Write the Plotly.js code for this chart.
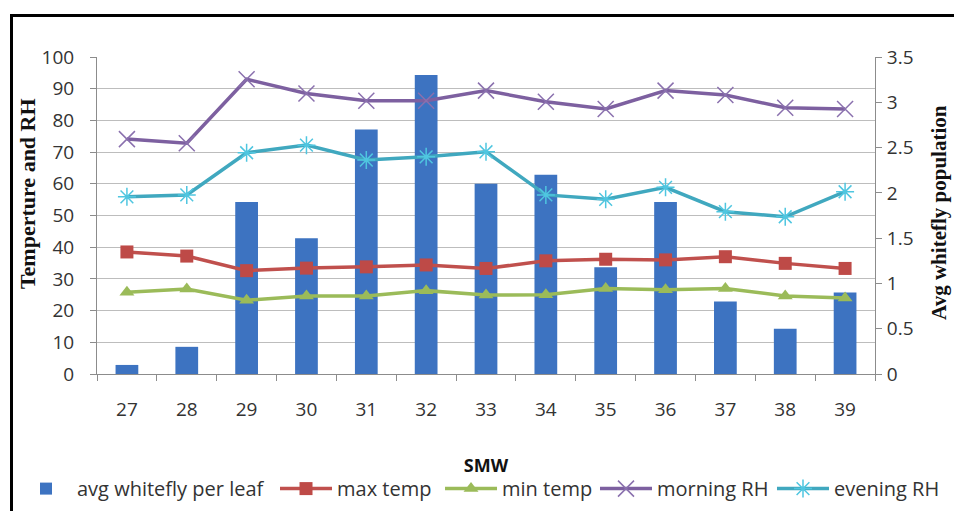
<!DOCTYPE html>
<html>
<head>
<meta charset="utf-8">
<script src="https://cdn.plot.ly/plotly-3.0.1.min.js"></script>
<style>
  html, body { margin: 0; padding: 0; background: #fff; }
  #chart { position: absolute; left: 0; top: 0; width: 954px; height: 511px; }
  #frame { position: absolute; left: 10px; top: 14px; right: -10px; bottom: -10px;
           border-left: 3px solid #000; border-top: 3px solid #000; pointer-events: none; }
</style>
</head>
<body>
<div id="chart"></div>
<div id="frame"></div>
<script>
// Standard meteorological weeks
const weeks = ['27', '28', '29', '30', '31', '32', '33', '34', '35', '36', '37', '38', '39'];

// Average whitefly population per leaf (right axis)
const whitefly = [0.1, 0.3, 1.9, 1.5, 2.7, 3.3, 2.1, 2.2, 1.18, 1.9, 0.8, 0.5, 0.9];

// Weather parameters (left axis)
const maxTemp    = [38.5, 37.2, 32.6, 33.4, 33.8, 34.4, 33.3, 35.7, 36.2, 36.0, 37.0, 34.9, 33.3];
const minTemp    = [25.8, 26.8, 23.3, 24.6, 24.6, 26.3, 24.9, 25.0, 27.0, 26.6, 27.0, 24.6, 24.0];
const morningRH  = [74.1, 72.8, 93.0, 88.5, 86.2, 86.2, 89.4, 85.9, 83.6, 89.4, 88.0, 84.0, 83.6];
const eveningRH  = [55.9, 56.5, 69.8, 72.2, 67.5, 68.5, 70.1, 56.5, 55.1, 58.9, 51.2, 49.6, 57.5];

const leftTicks = [0, 10, 20, 30, 40, 50, 60, 70, 80, 90, 100];
const rightTicks = [0, 0.5, 1, 1.5, 2, 2.5, 3, 3.5];
const rightTickText = ['0', '0.5', '1', '1.5', '2', '2.5', '3', '3.5'];

const sans = 'Open Sans, sans-serif';
const serif = 'Liberation Serif, Times New Roman, serif';

function lineTrace(name, values, color, markerColor, symbol, size, lineWidth, legendId) {
  return {
    type: 'scatter', mode: 'lines+markers', name: name,
    x: weeks, y: values, yaxis: 'y2', legend: legendId,
    line: { color: color, width: 3.5 },
    marker: { color: markerColor, symbol: symbol, size: size,
              line: { color: markerColor, width: lineWidth } }
  };
}

const traces = [
  {
    type: 'bar', name: 'avg whitefly per leaf',
    x: weeks, y: whitefly, yaxis: 'y', legend: 'legend',
    width: 0.38,
    marker: { color: '#3D73C1' }
  },
  lineTrace('max temp', maxTemp, '#C0504D', '#BE4A47', 'square', 13, 0, 'legend2'),
  lineTrace('min temp', minTemp, '#9BBB59', '#9BBB59', 'triangle-up', 13, 0, 'legend3'),
  lineTrace('morning RH', morningRH, '#7D60A0', '#8A70AE', 'x-thin-open', 16, 1.5, 'legend4'),
  lineTrace('evening RH', eveningRH, '#40A8BF', '#4FC6E0', 'asterisk-open', 15, 1.5, 'legend5')
];

// one legend box per entry, laid out in a single row under the axis title
function legendBox(x) {
  return {
    orientation: 'h', x: x, xanchor: 'left', y: -0.30, yanchor: 'top',
    font: { family: sans, size: 20, color: '#333' },
    itemwidth: 52, bgcolor: 'rgba(0,0,0,0)'
  };
}

const layout = {
  width: 954, height: 511,
  margin: { l: 97, r: 79, t: 57, b: 137, autoexpand: false },
  paper_bgcolor: '#ffffff', plot_bgcolor: '#ffffff',
  showlegend: true,
  font: { family: sans, color: '#333' },
  xaxis: {
    type: 'category', range: [-0.5, weeks.length - 0.5],
    showline: true, linecolor: '#8C8C8C', linewidth: 1,
    ticks: 'outside', tickson: 'boundaries', ticklen: 6, tickcolor: '#8C8C8C',
    ticklabelstandoff: 18,
    tickfont: { family: sans, size: 19, color: '#333' },
    showgrid: false, zeroline: false,
    title: { text: '<b>SMW</b>', font: { family: sans, size: 18, color: '#111' }, standoff: 38 }
  },
  // primary axis (right side) carries the bars so the lines draw above them
  yaxis: {
    side: 'right', range: [0, 3.5],
    tickvals: rightTicks, ticktext: rightTickText,
    showline: true, linecolor: '#8C8C8C', linewidth: 1,
    ticks: 'outside', ticklen: 6, tickcolor: '#8C8C8C',
    ticklabelstandoff: 1,
    tickfont: { family: sans, size: 19, color: '#333' },
    showgrid: false, zeroline: false
  },
  yaxis2: {
    overlaying: 'y', side: 'left', range: [0, 100],
    tickvals: leftTicks,
    showline: true, linecolor: '#8C8C8C', linewidth: 1,
    ticks: 'outside', ticklen: 6, tickcolor: '#8C8C8C',
    ticklabelstandoff: 12,
    tickfont: { family: sans, size: 19, color: '#333' },
    showgrid: true, gridcolor: '#BDBDBD', gridwidth: 1, zeroline: false
  },
  legend:  legendBox(-0.1054),
  legend2: legendBox(0.2288),
  legend3: legendBox(0.4409),
  legend4: legendBox(0.6401),
  legend5: legendBox(0.8676),
  annotations: [
    {
      xref: 'paper', yref: 'paper', x: -0.089, y: 0.57,
      text: '<b>Temperture and RH</b>', textangle: -90, showarrow: false,
      xanchor: 'center', yanchor: 'middle',
      font: { family: serif, size: 22, color: '#111' }
    },
    {
      xref: 'paper', yref: 'paper', x: 1.083, y: 0.51,
      text: '<b>Avg whitefly population</b>', textangle: -90, showarrow: false,
      xanchor: 'center', yanchor: 'middle',
      font: { family: serif, size: 21, color: '#111' }
    }
  ]
};

Plotly.newPlot('chart', traces, layout, { displayModeBar: false, staticPlot: true });
</script>
</body>
</html>
